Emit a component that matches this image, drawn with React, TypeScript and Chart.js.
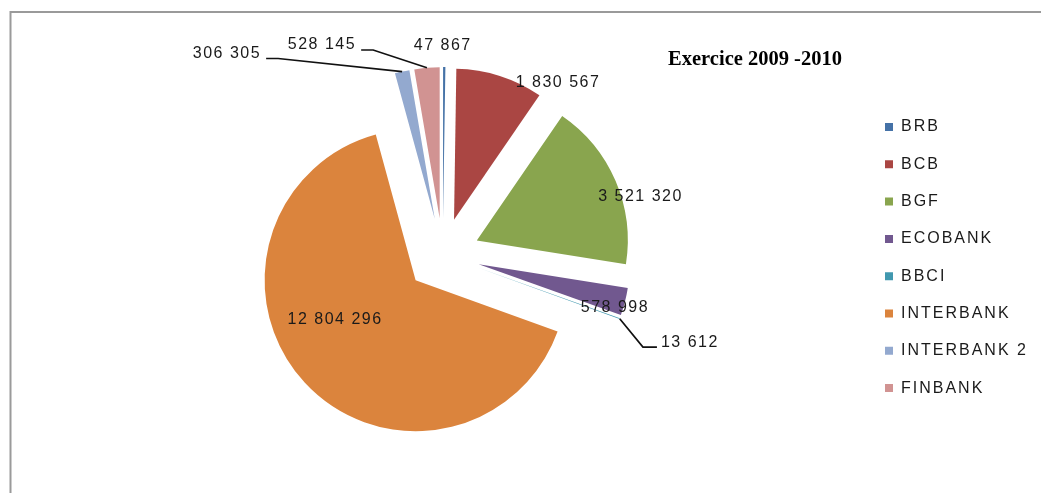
import { useEffect, useRef } from "react";
import { Chart, registerables } from "chart.js";

Chart.register(...registerables);

// ---- data ----
const categories = ["BRB", "BCB", "BGF", "ECOBANK", "BBCI", "INTERBANK", "INTERBANK 2", "FINBANK"];
const values = [47867, 1830567, 3521320, 578998, 13612, 12804296, 306305, 528145];
const colors = ["#4572A7", "#AA4643", "#89A54E", "#71588F", "#4198AF", "#DB843D", "#93A9CF", "#D19392"];
const titleText = "Exercice 2009 -2010";

// ---- label placement (style): angle in degrees clockwise from 12 o'clock, distance as a fraction of radius ----
const labelAngle = [0, 33.8, 73.6, 107.1, 109.4, 238.9, 313.05, 330.1];
const labelRadius = [1.385, 1.372, 1.365, 1.193, 1.735, 0.833, 1.956, 1.605];
const leaderSide: (string | null)[] = [null, null, null, null, "left", null, "right", "right"];

const W = 1041;
const H = 493;
const EXPLODE = 37;
const RADIUS = 151;
const SANS = '"Liberation Sans", Arial, sans-serif';
const LEGEND_PAD = 21.3;
const LEGEND_SPACING = "2px";
const AREA = { left: 21.9, right: 863.7, top: 17.2, bottom: 493 };
const LEGEND_BOX = { left: 863.7, top: 22.1, bottom: 493 };

const fmt = (v: number) => String(v).replace(/\B(?=(\d{3})+(?!\d))/g, " ");

const framePlugin = {
  id: "frame",
  beforeLayout(chart: any) {
    chart.ctx.letterSpacing = LEGEND_SPACING;
  },
  afterLayout(chart: any) {
    const lg = chart.legend;
    if (lg) {
      const w = lg.width;
      lg.left = LEGEND_BOX.left;
      lg.right = LEGEND_BOX.left + w;
      lg.top = LEGEND_BOX.top;
      lg.bottom = LEGEND_BOX.bottom;
      lg.height = LEGEND_BOX.bottom - LEGEND_BOX.top;
    }
    const ca = chart.chartArea;
    ca.left = AREA.left;
    ca.right = AREA.right;
    ca.top = AREA.top;
    ca.bottom = AREA.bottom;
    ca.width = AREA.right - AREA.left;
    ca.height = AREA.bottom - AREA.top;
  },
  beforeDraw(chart: any) {
    const ctx = chart.ctx;
    ctx.save();
    ctx.letterSpacing = "0px";
    ctx.strokeStyle = "#9a9a9a";
    ctx.lineWidth = 2;
    ctx.beginPath();
    ctx.moveTo(10.5, H);
    ctx.lineTo(10.5, 12);
    ctx.lineTo(W, 12);
    ctx.stroke();
    ctx.restore();
    ctx.letterSpacing = LEGEND_SPACING;
  },
  afterDraw(chart: any) {
    const ctx = chart.ctx;
    ctx.letterSpacing = "0px";
    ctx.save();
    ctx.font = 'bold 20.5px "Liberation Serif", "Times New Roman", serif';
    ctx.fillStyle = "#000";
    ctx.textAlign = "center";
    ctx.textBaseline = "alphabetic";
    ctx.fillText(titleText, 755, 64.5);
    ctx.restore();
  },
};

const explodePlugin = {
  id: "explode",
  beforeDatasetDraw(chart: any, args: any) {
    const ctx = chart.ctx;
    args.meta.data.forEach((arc: any) => {
      const a = (arc.startAngle + arc.endAngle) / 2;
      ctx.save();
      ctx.translate(Math.cos(a) * EXPLODE, Math.sin(a) * EXPLODE);
      arc.draw(ctx);
      ctx.restore();
    });
    return false;
  },
};

const labelPlugin = {
  id: "pieLabels",
  afterDatasetsDraw(chart: any) {
    const ctx = chart.ctx;
    const meta = chart.getDatasetMeta(0);
    const data = chart.data.datasets[0].data as number[];
    ctx.save();
    ctx.font = `16px ${SANS}`;
    ctx.letterSpacing = "1.5px";
    ctx.fillStyle = "#1a1a1a";
    ctx.strokeStyle = "#111";
    ctx.lineWidth = 1.7;
    ctx.textAlign = "center";
    ctx.textBaseline = "middle";
    meta.data.forEach((arc: any, i: number) => {
      const R = arc.outerRadius;
      const th = (labelAngle[i] * Math.PI) / 180;
      const lx = arc.x + Math.sin(th) * labelRadius[i] * R;
      const ly = arc.y - Math.cos(th) * labelRadius[i] * R;
      const text = fmt(data[i]);
      ctx.fillText(text, lx, ly);
      const side = leaderSide[i];
      if (side) {
        const w = ctx.measureText(text).width;
        const a = (arc.startAngle + arc.endAngle) / 2;
        const px = arc.x + Math.cos(a) * (EXPLODE + R);
        const py = arc.y + Math.sin(a) * (EXPLODE + R);
        const ey = ly + 5;
        let ex: number;
        let bx: number;
        if (side === "left") {
          ex = lx - w / 2 - 4;
          bx = ex - 14;
        } else {
          ex = lx + w / 2 + 5;
          bx = ex + 12;
        }
        ctx.beginPath();
        ctx.moveTo(px, py);
        ctx.lineTo(bx, ey);
        ctx.lineTo(ex, ey);
        ctx.stroke();
      }
    });
    ctx.restore();
  },
};

export default function App() {
  const ref = useRef<HTMLCanvasElement | null>(null);

  useEffect(() => {
    if (!ref.current) return;
    const chart = new Chart(ref.current, {
      type: "pie",
      data: {
        labels: categories,
        datasets: [
          {
            data: values,
            backgroundColor: colors,
            borderWidth: 0,
            hoverOffset: 0,
            radius: RADIUS,
          } as any,
        ],
      },
      options: {
        responsive: false,
        animation: false,
        events: [],
        layout: { padding: { left: 20, right: 0, top: 17, bottom: 0 } },
        plugins: {
          legend: {
            position: "right",
            align: "center",
            labels: {
              boxWidth: 8,
              boxHeight: 8,
              padding: LEGEND_PAD,
              color: "#1a1a1a",
              font: { size: 16, family: SANS },
            },
          },
          tooltip: { enabled: false },
        },
      } as any,
      plugins: [framePlugin, explodePlugin, labelPlugin],
    });
    return () => {
      chart.ctx.letterSpacing = "0px";
      chart.destroy();
    };
  }, []);

  return (
    <div style={{ position: "absolute", left: 0, top: 0, width: W, height: H, background: "#fff" }}>
      <canvas ref={ref} width={W} height={H} style={{ width: W, height: H, display: "block" }} />
    </div>
  );
}
